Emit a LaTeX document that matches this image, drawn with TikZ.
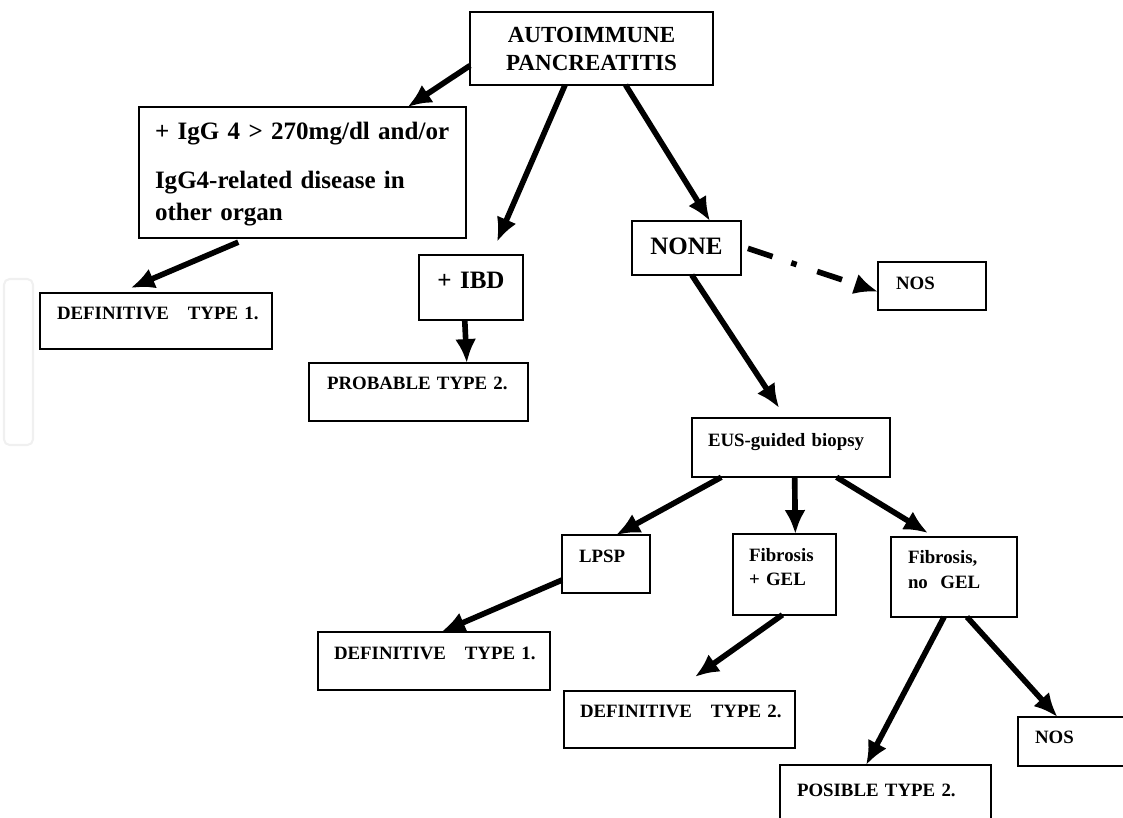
\documentclass[tikz,border=0pt]{standalone}
\usepackage{fontspec}
\setmainfont{Liberation Serif}
\usetikzlibrary{arrows.meta}
\newcommand{\flowarrow}{-{Latex[length=17pt,width=15pt]}}

\tikzset{
  box/.style={draw, line width=1.4pt, anchor=north west, inner ysep=0pt, outer sep=0pt, align=left},
  smalltext/.style={font=\bfseries\fontsize{13.4}{17.5}\selectfont},
  bigtext/.style={font=\bfseries\fontsize{17.8}{22.8}\selectfont},
  link/.style={line width=4pt},
  dashdot/.style={dash pattern=on 18.5pt off 14pt on 4pt off 15.5pt}
}

\begin{document}
\begin{tikzpicture}[x=0.025cm, y=-0.025cm]
        \useasboundingbox (0,0) rectangle (1123,817);
        % faint mark at the left edge
        \draw[gray!12, line width=1.5pt, rounded corners=4pt] (4,279) rectangle (33,445);

        \node[box, align=center, text width=5.575cm, text height=0.765cm, text depth=1.06cm, inner xsep=0.25cm,
              font=\bfseries\fontsize{16.4}{19.9}\selectfont] (top) at (470,12) {AUTOIMMUNE\\PANCREATITIS};
        \node[box, bigtext, text width=7.375cm, text height=0.81cm, text depth=2.47cm, inner xsep=0.4cm] (igg) at (139,107)
        {+ IgG 4 > 270mg/dl and/or\\[0.425cm]IgG4-related disease in\\other organ};
        \node[box, smalltext, text width=4.95cm, text height=0.66cm, text depth=0.74cm, inner xsep=0.425cm] (def1a) at (40,293)
        {DEFINITIVE~~~TYPE~1.};
        \node[box, bigtext, align=center, text width=2.1cm, text height=0.83cm, text depth=0.79cm, inner xsep=0.25cm] (ibd) at (419,255) {+ IBD};
        \node[box, smalltext, text width=4.575cm, text height=0.66cm, text depth=0.79cm, inner xsep=0.45cm] (prob) at (309,363)
        {PROBABLE TYPE~2.};
        \node[box, bigtext, align=center, text width=2.225cm, text height=0.83cm, text depth=0.52cm, inner xsep=0.25cm] (none) at (632,221) {NONE};
        \node[box, smalltext, text width=1.8cm, text height=0.68cm, text depth=0.52cm, inner xsep=0.45cm] (nos1) at (878,262) {NOS};
        \node[box, smalltext, text width=4.15cm, text height=0.71cm, text depth=0.77cm, inner xsep=0.4cm] (eus) at (692,418)
        {EUS-guided biopsy};
        \node[box, smalltext, text width=1.35cm, text height=0.68cm, text depth=0.77cm, inner xsep=0.425cm] (lpsp) at (562,535) {LPSP};
        \node[box, smalltext, text width=1.775cm, text height=0.68cm, text depth=1.34cm, inner xsep=0.4cm] (fgel) at (733,534)
        {Fibrosis\\+ GEL};
        \node[box, smalltext, text width=2.3cm, text height=0.66cm, text depth=1.34cm, inner xsep=0.425cm] (fnogel) at (891,537)
        {Fibrosis,\\no~~GEL};
        \node[box, smalltext, text width=5.0cm, text height=0.675cm, text depth=0.775cm, inner xsep=0.4cm] (def1b) at (318,632)
        {DEFINITIVE~~~TYPE~1.};
        \node[box, smalltext, text width=4.975cm, text height=0.65cm, text depth=0.775cm, inner xsep=0.4cm] (def2) at (564,691)
        {DEFINITIVE~~~TYPE~2.};
        \node[box, smalltext, text width=1.95cm, text height=0.665cm, text depth=0.56cm, inner xsep=0.425cm] (nos2) at (1018,717) {NOS};
        \node[box, smalltext, text width=4.425cm, text height=0.78cm, text depth=0.84cm, inner xsep=0.425cm] (posible) at (780,765)
        {POSIBLE TYPE~2.};

        % first level
        \draw[\flowarrow, link] (top.188) -- (igg.32);
        \draw[\flowarrow, link, shorten >=0.36cm] (top.234) -- (ibd.58);
        \draw[\flowarrow, link] (top.313) -- (none.49);
        \draw[\flowarrow, link, shorten <=0.25cm, shorten >=0.32cm] (igg.230) -- (def1a.143);
        \draw[\flowarrow, link] (ibd.259.5) -- (prob.31.9);
        \draw[\flowarrow, link, dashdot, shorten <=0.18cm] (none.2.5) -- (nos1.186.3);
        \draw[\flowarrow, link, shorten >=0.3cm] (none.281.5) -- (eus.100.6);

        % biopsy
        \draw[\flowarrow, link] (eus.203.8) -- (lpsp.71.9);
        \draw[\flowarrow, link] (eus.277.7) -- (fgel.75.5);
        \draw[\flowarrow, link, shorten >=0.19cm] (eus.327.6) -- (fnogel.116);
        \draw[\flowarrow, link] (lpsp.200.2) -- (def1b.76.4);
        \draw[\flowarrow, link, shorten >=0.61cm] (fgel.267.9) -- (def2.99);
        \draw[\flowarrow, link] (fnogel.256) -- (posible.121);
        \draw[\flowarrow, link] (fnogel.288) -- (nos2.124);
    \end{tikzpicture}
\end{document}
